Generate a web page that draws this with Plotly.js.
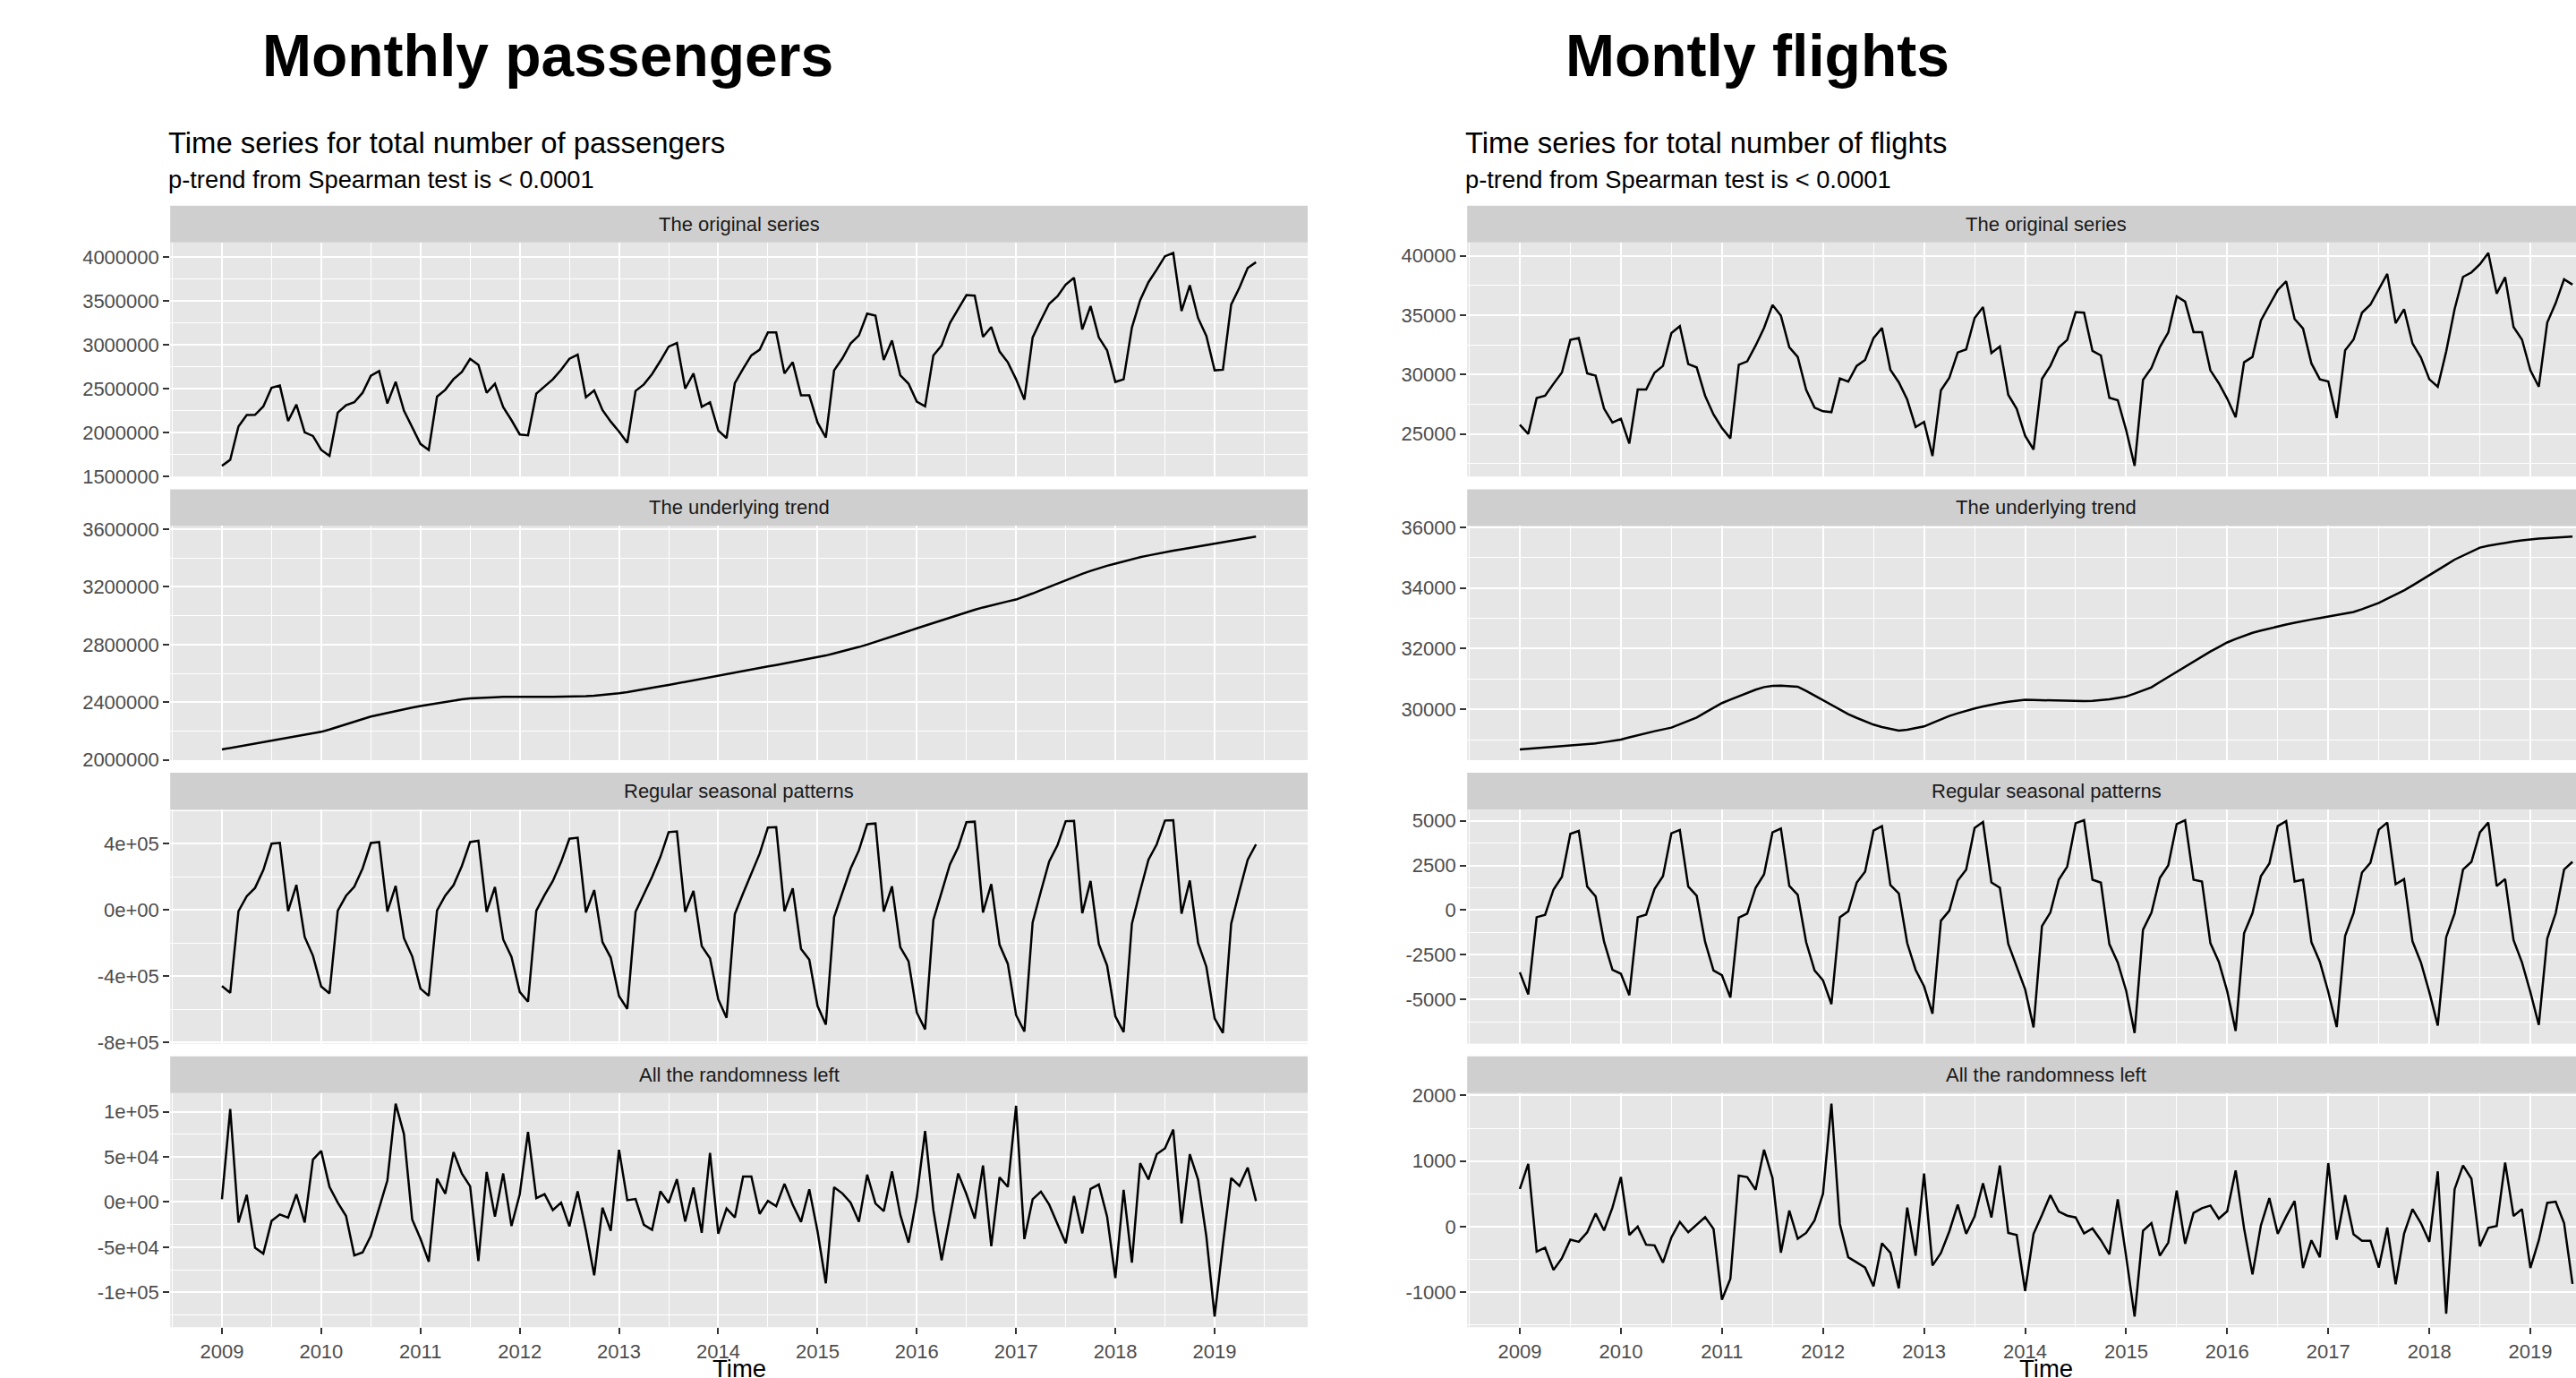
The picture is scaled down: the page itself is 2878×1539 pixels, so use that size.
<!DOCTYPE html>
<html><head><meta charset="utf-8">
<script src="https://cdn.plot.ly/plotly-3.0.1.min.js"></script>
<style>
html,body{margin:0;padding:0;overflow:hidden;background:#fff;width:2878px;height:1539px}
#chart{width:2940px;height:1539px}
</style>
</head><body><div id="chart"></div>
<script>
// ---------------- DATA ----------------
const START_YEAR = 2009;           // first month = Jan 2009, monthly
const yearTicks = [2009,2010,2011,2012,2013,2014,2015,2016,2017,2018,2019];
const yearLabels = ["2009","2010","2011","2012","2013","2014","2015","2016","2017","2018","2019"];
const facetNames = ["The original series","The underlying trend","Regular seasonal patterns","All the randomness left"];

// Monthly passengers (thousands)
const passOriginalK = [
 1618,1688,2068,2197,2200,2295,2509,2533,2129,2316,2000,1959,
 1800,1732,2224,2309,2343,2451,2645,2699,2329,2577,2248,2051,
 1868,1800,2407,2485,2607,2689,2838,2770,2451,2553,2288,2139,
 1976,1966,2441,2523,2604,2713,2838,2886,2400,2479,2255,2122,
 2010,1881,2472,2546,2665,2815,2977,3018,2499,2672,2292,2343,
 2020,1935,2561,2724,2877,2942,3139,3139,2673,2799,2422,2422,
 2112,1942,2707,2843,3014,3105,3354,3330,2826,3047,2650,2554,
 2350,2296,2877,2990,3245,3405,3565,3558,3088,3201,2922,2799,
 2605,2374,3082,3279,3466,3551,3684,3762,3173,3439,3082,2935,
 2575,2605,3194,3507,3711,3854,4007,4044,3384,3677,3303,3099,
 2707,2714,3456,3650,3874,3939];
const passTrendK = [
 2073,2083,2092,2102,2112,2121,2131,2141,2152,2163,2173,2184,
 2195,2211,2229,2247,2265,2283,2301,2314,2327,2340,2352,2363,
 2374,2384,2394,2404,2412,2420,2426,2430,2433,2435,2437,2438,
 2438,2438,2438,2438,2438,2438,2439,2440,2442,2445,2450,2456,
 2462,2470,2479,2489,2499,2510,2520,2531,2542,2553,2564,2575,
 2586,2596,2606,2617,2627,2638,2648,2658,2669,2679,2690,2700,
 2711,2724,2738,2752,2767,2783,2800,2818,2837,2856,2875,2894,
 2912,2931,2950,2968,2987,3006,3024,3041,3057,3072,3086,3099,
 3112,3132,3154,3177,3200,3223,3247,3268,3290,3310,3329,3346,
 3361,3377,3392,3405,3417,3429,3440,3450,3460,3470,3479,3489,
 3498,3508,3518,3528,3538,3548];
const passSeasonalK = [
 -459,-500,-7,83,133,240,400,405,-7,151,-163,-276,
 -462,-504,-5,85,140,250,404,410,-10,145,-170,-280,
 -475,-518,-3,87,150,265,410,418,-12,138,-178,-283,
 -495,-554,-5,90,175,290,430,436,-15,120,-194,-288,
 -520,-597,-11,95,200,320,470,474,-12,115,-218,-292,
 -540,-651,-25,100,225,340,498,500,-8,130,-235,-300,
 -580,-692,-43,105,250,360,518,522,-10,142,-225,-310,
 -620,-721,-60,108,275,378,530,533,-15,156,-210,-325,
 -635,-734,-75,112,292,390,536,538,-20,175,-205,-335,
 -642,-737,-83,115,303,396,540,542,-22,178,-200,-343,
 -655,-743,-83,115,303,396];
const passRandomK = [
 3.0,103.0,-22.7,7.9,-50.7,-57.2,-21.0,-13.8,-17.4,8.6,-22.7,47.0,
 56.6,16.8,-0.7,-15.5,-59.2,-55.9,-37.5,-7.2,24.0,108.9,75.3,-19.4,
 -40.8,-66.1,26.0,9.2,55.3,31.6,17.4,-65.5,33.2,-16.1,31.6,-26.6,
 8.6,77.6,4.3,8.6,-8.9,-0.7,-27.0,11.8,-31.9,-81.3,-6.3,-31.9,
 57.9,2.0,3.3,-25.3,-30.9,11.8,-1.0,25.3,-21.7,16.1,-34.2,54.3,
 -35.2,-7.2,-17.1,28.3,28.3,-13.2,1.3,-4.6,20.1,-3.0,-22.0,14.1,
 -32.6,-90.1,16.4,9.5,-0.7,-22.0,30.3,-1.6,-10.2,33.9,-14.1,-45.1,
 5.6,78.6,-8.9,-64.5,-16.8,31.6,8.6,-18.4,40.5,-49.0,27.3,16.8,
 106.6,-41.1,3.0,11.5,-3.0,-24.3,-45.7,6.6,-34.9,14.5,19.4,-16.1,
 -84.2,13.5,-67.1,43.1,25.0,53.0,59.5,80.3,-23.7,53.0,25.0,-38.2,
 -127.0,-47.4,26.6,17.8,38.2,1.0];

// Monthly flights
const flightOriginal = [
 25779,25000,28016,28217,29222,30177,32916,33067,30101,29900,27136,25955,
 26282,24196,28744,28744,30152,30730,33494,34072,30880,30604,28217,26633,
 25503,24623,30830,31106,32438,33921,35856,34951,32288,31484,28719,27211,
 26910,26834,29674,29398,30730,31232,33067,33921,30403,29348,27890,25578,
 26005,23140,28669,29724,31861,32112,34750,35680,31810,32363,28292,27110,
 24850,23693,29624,30730,32288,32916,35253,35203,31986,31609,28041,27840,
 25327,22311,29549,30554,32313,33544,36585,36133,33569,33569,30353,29273,
 27965,26407,31031,31484,34549,35831,37113,37842,34675,33871,30931,29599,
 29423,26332,32036,32941,35203,35881,37188,38470,34323,35504,32614,31433,
 29599,28971,31936,35504,38218,38595,39273,40228,36811,38193,33997,32941,
 30353,28971,34373,36007,38017,37565];
const flightTrend = [
 28680,28702,28724,28745,28766,28787,28808,28831,28854,28877,28920,28962,
 29005,29077,29150,29222,29281,29340,29399,29511,29622,29734,29892,30050,
 30207,30322,30437,30552,30650,30735,30778,30780,30770,30749,30610,30460,
 30305,30150,29995,29842,29720,29605,29498,29420,29350,29301,29330,29380,
 29439,29555,29670,29783,29870,29955,30030,30095,30155,30207,30250,30285,
 30315,30310,30302,30296,30285,30275,30266,30272,30283,30296,30330,30375,
 30424,30520,30620,30729,30900,31070,31241,31412,31583,31753,31905,32056,
 32206,32320,32425,32522,32595,32668,32738,32797,32857,32916,32962,33008,
 33054,33106,33158,33211,33300,33400,33507,33645,33782,33920,34084,34248,
 34413,34587,34761,34935,35070,35200,35329,35390,35445,35496,35533,35570,
 35605,35625,35643,35660,35677,35693];
const flightSeasonal = [
 -3484,-4717,-400,-267,1150,1867,4267,4434,1317,767,-1767,-3350,
 -3567,-4767,-400,-250,1180,1900,4300,4484,1317,800,-1780,-3380,
 -3650,-4900,-420,-200,1250,2000,4350,4567,1350,850,-1800,-3380,
 -3934,-5267,-400,-67,1534,2150,4450,4700,1400,934,-1850,-3350,
 -4267,-5800,-600,-33,1650,2267,4600,4934,1550,1250,-1900,-3150,
 -4434,-6567,-900,-133,1700,2434,4867,5034,1700,1534,-1900,-2934,
 -4517,-6884,-1100,-150,1800,2500,4817,5034,1700,1600,-1850,-2900,
 -4550,-6767,-1300,-170,1900,2600,4700,4984,1600,1700,-1800,-2900,
 -4580,-6551,-1450,-180,2100,2650,4500,4900,1450,1734,-1750,-2934,
 -4600,-6467,-1517,-183,2267,2700,4350,4900,1350,1734,-1684,-2934,
 -4600,-6434,-1600,-183,2267,2700];
const flightRandom = [
 575,955,-380,-321,-661,-480,-199,-231,-86,199,-59,290,
 756,-127,0,-276,-285,-548,-163,72,-86,32,145,-36,
 -1113,-796,778,756,561,1172,742,-398,244,-186,-95,95,
 502,1873,41,-466,-548,-624,-910,-253,-398,-941,290,-443,
 810,-593,-403,-72,335,-109,154,661,140,932,-95,-127,
 -980,-110,176,480,231,167,140,-104,-27,-208,-421,416,
 -457,-1371,-63,54,-443,-244,548,-262,208,281,321,122,
 235,855,-27,-729,18,434,-109,154,389,-629,-208,-466,
 968,-199,480,-118,-217,-217,-624,-14,-878,-109,267,54,
 -231,842,-1326,570,932,729,-299,-18,9,977,163,267,
 -629,-208,362,380,54,-873];

// Tick labels per facet
const passTicks = [
 {vals:[1500000,2000000,2500000,3000000,3500000,4000000], text:["1500000","2000000","2500000","3000000","3500000","4000000"], minor:[1750000,2250000,2750000,3250000,3750000]},
 {vals:[2000000,2400000,2800000,3200000,3600000], text:["2000000","2400000","2800000","3200000","3600000"], minor:[2200000,2600000,3000000,3400000]},
 {vals:[-800000,-400000,0,400000], text:["-8e+05","-4e+05","0e+00","4e+05"], minor:[-600000,-200000,200000,600000]},
 {vals:[-100000,-50000,0,50000,100000], text:["-1e+05","-5e+04","0e+00","5e+04","1e+05"], minor:[-125000,-75000,-25000,25000,75000]}
];
const flightTicks = [
 {vals:[25000,30000,35000,40000], text:["25000","30000","35000","40000"], minor:[22500,27500,32500,37500]},
 {vals:[30000,32000,34000,36000], text:["30000","32000","34000","36000"], minor:[29000,31000,33000,35000]},
 {vals:[-5000,-2500,0,2500,5000], text:["-5000","-2500","0","2500","5000"], minor:[-6250,-3750,-1250,1250,3750]},
 {vals:[-1000,0,1000,2000], text:["-1000","0","1000","2000"], minor:[-1500,-500,500,1500]}
];
const titles = ["Monthly passengers","Montly flights"];
const subtitles = ["Time series for total number of passengers","Time series for total number of flights"];
const pTrendText = "p-trend from Spearman test is < 0.0001";

// ---------------- LAYOUT CONSTANTS (px) ----------------
const W = 2940, H = 1539;
const FONT = "Liberation Sans, Arial, Helvetica, sans-serif";
const colX = [[190.2,1461.0],[1639.2,2932.9]];
const PANEL_TOP0 = 270.7, PANEL_H = 261.5, STEP = 316.7, STRIP_H = 41;
const LW = 2.5, GW = 2.0, GWm = 1.0, TW = 2.0;
const PANEL_BG = '#E6E6E6', STRIP_BG = '#CFCFCF';

const toK = a => a.map(v => v*1000);
const series = [
 [toK(passOriginalK), toK(passTrendK), toK(passSeasonalK), toK(passRandomK)],
 [flightOriginal, flightTrend, flightSeasonal, flightRandom]
];
const tickSets = [passTicks, flightTicks];
const n = passOriginalK.length;
const xs = Array.from({length:n}, (_,i) => START_YEAR + i/12);
const xPad = 0.05*(xs[n-1]-xs[0]);
const xRange = [xs[0]-xPad, xs[n-1]+xPad];
const halfYears = yearTicks.map(y => y-0.5).concat([2019.5]);

const data = [];
const layout = {
 width: W, height: H, margin:{l:0,r:0,t:0,b:0,pad:0},
 paper_bgcolor:'#FFFFFF', plot_bgcolor:PANEL_BG, showlegend:false,
 font:{family:FONT, size:22, color:'#4D4D4D'},
 shapes:[], annotations:[]
};
const px = x => x/W, py = y => 1 - y/H;

for (let c=0;c<2;c++){
 const [x0,x1] = colX[c];
 for (let k=0;k<4;k++){
  const id = c*4+k+1;
  const ys = series[c][k];
  const mn = Math.min(...ys), mx = Math.max(...ys), pad = 0.05*(mx-mn);
  const top = PANEL_TOP0 + k*STEP, bot = top + PANEL_H;
  data.push({x:xs, y:ys, type:'scatter', mode:'lines', line:{color:'#000000', width:LW},
   xaxis:'x'+id, yaxis:'y'+id, hoverinfo:'skip'});
  layout['xaxis'+id] = {
   domain:[px(x0),px(x1)], anchor:'y'+id, range:xRange,
   tickmode:'array', tickvals:yearTicks, ticktext:yearLabels,
   showticklabels:k===3, ticks:k===3?'outside':'', ticklen:7, tickwidth:TW, tickcolor:'#333333',
   tickfont:{family:FONT,size:22,color:'#4D4D4D'},
   showgrid:true, gridcolor:'#FFFFFF', gridwidth:GW,
   minor:{tickvals:halfYears, showgrid:true, gridcolor:'#FFFFFF', gridwidth:GWm, ticks:''},
   zeroline:false, showline:false, fixedrange:true
  };
  const t = tickSets[c][k];
  layout['yaxis'+id] = {
   domain:[py(bot),py(top)], anchor:'x'+id, range:[mn-pad,mx+pad],
   tickmode:'array', tickvals:t.vals, ticktext:t.text,
   ticks:'outside', ticklen:7, tickwidth:TW, tickcolor:'#333333',
   tickfont:{family:FONT,size:22,color:'#4D4D4D'},
   showgrid:true, gridcolor:'#FFFFFF', gridwidth:GW,
   minor:{tickvals:t.minor, showgrid:true, gridcolor:'#FFFFFF', gridwidth:GWm, ticks:''},
   zeroline:false, showline:false, fixedrange:true
  };
  // strip
  layout.shapes.push({type:'rect', xref:'paper', yref:'paper', x0:px(x0), x1:px(x1),
   y0:py(top), y1:py(top-STRIP_H), fillcolor:STRIP_BG, line:{width:0}, layer:'below'});
  layout.annotations.push({xref:'paper', yref:'paper', x:px((x0+x1)/2), y:py(top-STRIP_H/2),
   text:facetNames[k], showarrow:false, xanchor:'center', yanchor:'middle', borderpad:0,
   font:{family:FONT, size:22, color:'#1A1A1A'}});
 }
 // titles
 const titleX = [612, 1963][c];
 layout.annotations.push({xref:'paper', yref:'paper', x:px(titleX), y:py(62.5),
  text:'<b>'+titles[c]+'</b>', showarrow:false, xanchor:'center', yanchor:'middle', borderpad:0,
  font:{family:FONT, size:66, color:'#000000'}});
 layout.annotations.push({xref:'paper', yref:'paper', x:px(x0-3), y:py(159.7),
  text:subtitles[c], showarrow:false, xanchor:'left', yanchor:'middle', borderpad:0,
  font:{family:FONT, size:32.8, color:'#000000'}});
 layout.annotations.push({xref:'paper', yref:'paper', x:px(x0-3), y:py(200),
  text:pTrendText, showarrow:false, xanchor:'left', yanchor:'middle', borderpad:0,
  font:{family:FONT, size:27.3, color:'#000000'}});
 layout.annotations.push({xref:'paper', yref:'paper', x:px((x0+x1)/2), y:py(1528),
  text:'Time', showarrow:false, xanchor:'center', yanchor:'middle', borderpad:0,
  font:{family:FONT, size:27.5, color:'#000000'}});
}

Plotly.newPlot('chart', data, layout, {displayModeBar:false, staticPlot:true});
</script></body></html>
